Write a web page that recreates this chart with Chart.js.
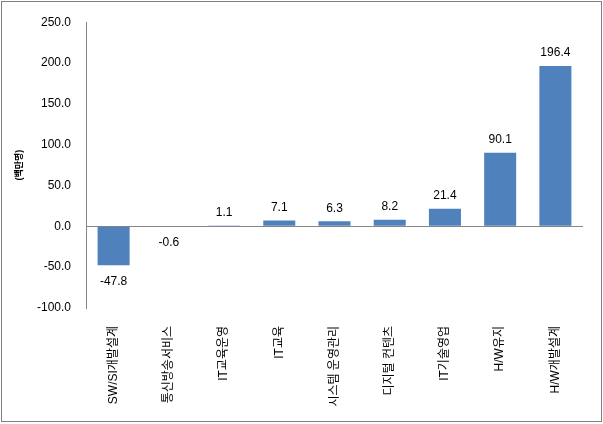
<!DOCTYPE html>
<html>
<head>
<meta charset="utf-8">
<script src="https://cdn.jsdelivr.net/npm/chart.js@4"></script>
<style>
  body { margin: 0; background: #fff; }
  #wrap { position: relative; width: 603px; height: 424px; }
  #frame {
    position: absolute; left: 1px; top: 1px; width: 599px; height: 419px;
    border: 1px solid #7f7f7f; pointer-events: none;
  }
</style>
</head>
<body>
<div id="wrap"><canvas id="c"></canvas><div id="frame"></div></div>
<script>
const categories = ['SW/SI개발설계', '통신방송서비스', 'IT교육운영', 'IT교육', '시스템 운영관리',
  '디지털 컨텐츠', 'IT기술영업', 'H/W유지', 'H/W개발설계'];
const changes = [-47.8, -0.6, 1.1, 7.1, 6.3, 8.2, 21.4, 90.1, 196.4];
const yMin = -100;
const yMax = 250;
const yStep = 50;
const yTitle = '(백만명)';

const fontFamily = '"Liberation Sans", "Noto Sans CJK KR", sans-serif';

// draws the value above (or below, for negatives) each bar
const valueLabels = {
  id: 'valueLabels',
  afterDatasetsDraw(chart) {
    const ctx = chart.ctx;
    const meta = chart.getDatasetMeta(0);
    ctx.save();
    ctx.font = '12px ' + fontFamily;
    ctx.fillStyle = '#000';
    ctx.textAlign = 'center';
    ctx.textBaseline = 'middle';
    meta.data.forEach((bar, i) => {
      const v = changes[i];
      const y = v < 0 ? bar.y + 16 : bar.y - 13;
      ctx.fillText(v.toFixed(1), bar.x, y);
    });
    ctx.restore();
  },
};

new Chart(document.getElementById('c'), {
  type: 'bar',
  data: {
    labels: categories,
    datasets: [{
      data: changes,
      backgroundColor: '#4f81bd',
      barPercentage: 0.58,
      categoryPercentage: 1,
    }],
  },
  options: {
    responsive: true,
    maintainAspectRatio: false,
    animation: false,
    layout: { padding: { top: 15, right: 20, left: 0, bottom: 0 } },
    plugins: {
      legend: { display: false },
      tooltip: { enabled: false },
    },
    scales: {
      x: {
        grid: { display: false },
        border: { display: false },
        ticks: {
          color: '#000',
          font: { family: fontFamily, size: 12 },
          minRotation: 90,
          maxRotation: 90,
          autoSkip: false,
          padding: 10,
        },
        afterFit(scale) { scale.height = 116; },
      },
      y: {
        min: yMin,
        max: yMax,
        grid: {
          drawTicks: false,
          color: (c) => (c.tick && c.tick.value === 0 ? '#868686' : 'rgba(0,0,0,0)'),
        },
        border: { display: true, color: '#868686' },
        ticks: {
          stepSize: yStep,
          color: '#000',
          padding: 15,
          font: { family: fontFamily, size: 12 },
          callback: (v) => Number(v).toFixed(1),
        },
        title: {
          display: true,
          text: yTitle,
          color: '#000',
          font: { family: fontFamily, size: 9, weight: 'bold' },
          padding: { top: 14, bottom: 0 },
        },
        afterFit(scale) { scale.width = 86; },
      },
    },
  },
  plugins: [valueLabels],
});
</script>
</body>
</html>
